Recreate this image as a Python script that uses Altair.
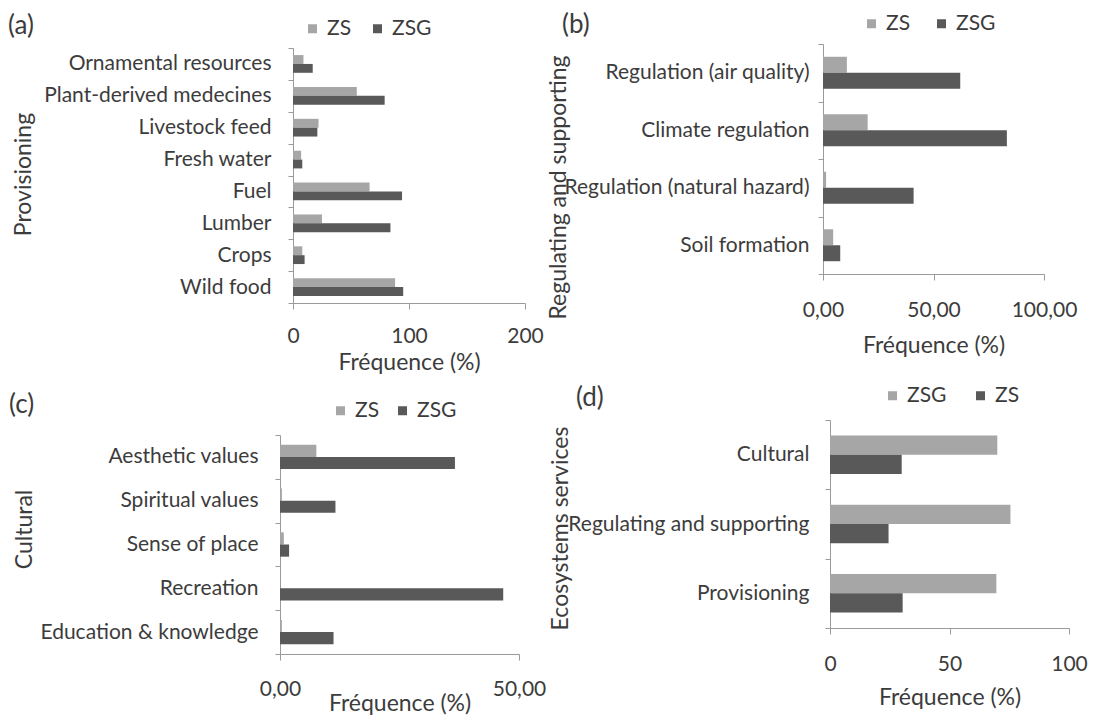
import altair as alt
import pandas as pd

# ---------------- data ----------------
SERIES_ABC = ["ZS", "ZSG"]
SERIES_D = ["ZSG", "ZS"]
COLORS_ABC = ["#a6a6a6", "#595959"]
COLORS_D = ["#a6a6a6", "#595959"]

prov_cats = ["Ornamental resources\u00a0", "Plant-derived medecines", "Livestock feed",
             "Fresh water", "Fuel", "Lumber", "Crops", "Wild food"]
prov_zs = [9, 55, 22, 7, 66, 25, 8, 88]
prov_zsg = [17, 79, 21, 8, 94, 84, 10, 95]

reg_cats = ["Regulation (air quality)", "Climate regulation",
            "Regulation (natural hazard)", "Soil formation"]
reg_zs = [10.8, 20.2, 1.4, 4.6]
reg_zsg = [62.1, 83.2, 41.0, 7.8]

cult_cats = ["Aesthetic values", "Spiritual values", "Sense of place\u00a0",
             "Recreation", "Education & knowledge\u00a0"]
cult_zs = [7.6, 0.4, 0.8, 0.0, 0.4]
cult_zsg = [36.6, 11.6, 1.9, 46.7, 11.2]

eco_cats = ["Cultural", "Regulating and supporting", "Provisioning"]
eco_zsg = [70.0, 75.5, 69.6]
eco_zs = [30.0, 24.5, 30.4]

W, H = 1084, 709
AX = "#9a9a9a"
TXT = "#3c3c3c"
FONT = "Lato"
LAB = 21
TIT = 23
COMMA_FMT = "replace(format(datum.value, '.2f'), '.', ',')"


def panel(cats, series, values, colors, ytitle, xdom, xticks, xr, yr,
          ylabpad, ytitle_xy, xlabpad, xtitle_y, leg_xy, leg_colpad, xlabel_expr=None):
    rows = []
    for s, vals in zip(series, values):
        for c, v in zip(cats, vals):
            rows.append({"cat": c, "serie": s, "val": v})
    df = pd.DataFrame(rows)
    xaxis_kw = dict(
        title="Fréquence (%)", orient="bottom", offset=yr[1] - H, values=xticks,
        labelFlush=False, labelOverlap=False, labelPadding=xlabpad, tickSize=6,
        domainColor=AX, tickColor=AX, grid=False, titleY=xtitle_y,
        titleBaseline="middle",
    )
    if xlabel_expr:
        xaxis_kw["labelExpr"] = xlabel_expr
    else:
        xaxis_kw["format"] = "d"
    return alt.Chart(df).mark_bar().encode(
        y=alt.Y("cat:N", sort=cats,
                scale=alt.Scale(range=yr, paddingInner=0, paddingOuter=0),
                axis=alt.Axis(title=ytitle, orient="left", offset=-xr[0],
                              domainColor=AX, tickColor=AX, tickSize=5,
                              tickBand="extent", labelPadding=ylabpad,
                              labelLimit=500, titleX=ytitle_xy[0] - xr[0],
                              titleY=ytitle_xy[1], titleAngle=270,
                              titleBaseline="middle", titleAlign="center")),
        yOffset=alt.YOffset("serie:N", sort=series,
                            scale=alt.Scale(paddingInner=0, paddingOuter=0.8)),
        x=alt.X("val:Q", scale=alt.Scale(domain=xdom, range=xr, nice=False),
                axis=alt.Axis(**xaxis_kw)),
        color=alt.Color("serie:N", sort=series,
                        scale=alt.Scale(domain=series, range=colors),
                        legend=alt.Legend(orient="none", legendX=leg_xy[0],
                                          legendY=leg_xy[1], direction="horizontal",
                                          title=None, symbolType="square",
                                          symbolSize=81, symbolStrokeWidth=0,
                                          labelOffset=4, columnPadding=leg_colpad,
                                          padding=0)),
    )


def tag(label, x, y):
    return alt.Chart(pd.DataFrame({"t": [label]})).mark_text(
        align="left", baseline="middle", fontSize=26, font=FONT, color=TXT
    ).encode(text="t:N", x=alt.value(x), y=alt.value(y))


pa = panel(prov_cats, SERIES_ABC, [prov_zs, prov_zsg], COLORS_ABC, "Provisioning",
           [0, 200], [0, 100, 200], [285, 517], [40, 295], 17, (15, 166), 16, 59,
           (294, 10), 15)
pb = panel(reg_cats, SERIES_ABC, [reg_zs, reg_zsg], COLORS_ABC, "Regulating and supporting",
           [0, 100], [0, 50, 100], [815, 1036], [36, 266], 9, (550, 179), 19, 71,
           (853, 5), 20, COMMA_FMT)
pc = panel(cult_cats, SERIES_ABC, [cult_zs, cult_zsg], COLORS_ABC, "Cultural",
           [0, 50], [0, 50], [272, 511], [427, 646], 17, (16, 521), 18, 49,
           (322, 392), 12, COMMA_FMT)
pd_ = panel(eco_cats, SERIES_D, [eco_zsg, eco_zs], COLORS_D, "Ecosystems services",
            [0, 100], [0, 50, 100], [822, 1061], [412, 620], 16, (552, 520), 19, 69,
            (874, 377), 23)

chart = alt.layer(
    pa, pb, pc, pd_,
    tag("(a)", 0, 18), tag("(b)", 554, 17), tag("(c)", 1, 397), tag("(d)", 568, 390),
).resolve_scale(
    x="independent", y="independent", yOffset="independent", color="independent"
).resolve_axis(
    x="independent", y="independent"
).resolve_legend(
    color="independent"
).properties(
    width=W, height=H, padding=0, autosize=alt.AutoSizeParams(type="none")
).configure(
    font=FONT
).configure_view(
    stroke=None
).configure_axis(
    labelFont=FONT, titleFont=FONT, labelFontSize=LAB, titleFontSize=TIT,
    labelColor=TXT, titleColor=TXT, titleFontWeight="normal"
).configure_legend(
    labelFont=FONT, labelFontSize=LAB, labelColor=TXT
)

chart.save("out.html", embed_options={"renderer": "svg", "actions": False})
